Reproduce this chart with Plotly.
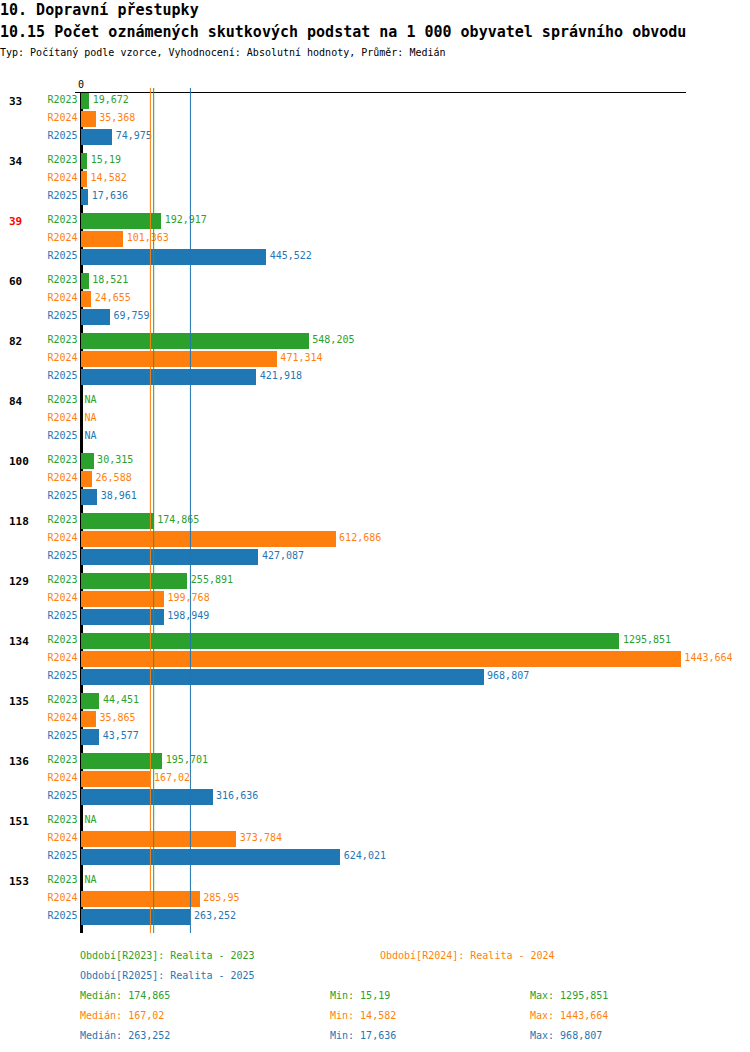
import numpy as np
import plotly.graph_objects as go

# Obvody (kategorie) a hodnoty za jednotlivá období; None = NA
categories = ["33", "34", "39", "60", "82", "84", "100", "118", "129", "134", "135", "136", "151", "153"]
highlight = "39"
r2023 = [19.672, 15.19, 192.917, 18.521, 548.205, None, 30.315, 174.865, 255.891, 1295.851, 44.451, 195.701, None, None]
r2024 = [35.368, 14.582, 101.363, 24.655, 471.314, None, 26.588, 612.686, 199.768, 1443.664, 35.865, 167.02, 373.784, 285.95]
r2025 = [74.975, 17.636, 445.522, 69.759, 421.918, None, 38.961, 427.087, 198.949, 968.807, 43.577, 316.636, 624.021, 263.252]

series = [
    ("R2023", "Realita - 2023", r2023, "#2ca02c"),
    ("R2024", "Realita - 2024", r2024, "#ff7f0e"),
    ("R2025", "Realita - 2025", r2025, "#1f77b4"),
]

FONT = "DejaVu Sans Mono"


def fmt(v):
    if v is None:
        return "NA"
    return ("%.3f" % v).rstrip("0").rstrip(".").replace(".", ",")


fig = go.Figure()
idx = np.arange(len(categories))

for j, (code, name, vals, color) in enumerate(series):
    ypos = idx + (j - 1) * 0.3
    xs = [v if v is not None else 0 for v in vals]
    fig.add_trace(go.Bar(
        x=vals, y=ypos, orientation="h",
        width=0.267, marker=dict(color=color, line=dict(width=0)),
        hoverinfo="skip", showlegend=False,
    ))
    # popisky hodnot
    fig.add_trace(go.Scatter(
        x=xs, y=ypos, mode="markers+text", text=[fmt(v) for v in vals],
        marker=dict(size=4, opacity=0),
        textposition="middle right", textfont=dict(family=FONT, size=10, color=color),
        hoverinfo="skip", showlegend=False, cliponaxis=False,
    ))
    # popisky období
    fig.add_trace(go.Scatter(
        x=[0] * len(vals), y=ypos, mode="markers+text", text=[code] * len(vals),
        marker=dict(size=4, opacity=0),
        textposition="middle left", textfont=dict(family=FONT, size=10, color=color),
        hoverinfo="skip", showlegend=False, cliponaxis=False,
    ))
    med = np.nanmedian(np.array(vals, dtype=float))
    fig.add_shape(type="line", x0=med, x1=med, yref="paper", y0=0, y1=1.006,
                  line=dict(color=color, width=1))

# popisky obvodů
for i, cat in enumerate(categories):
    fig.add_annotation(
        x=0, xref="paper", xshift=-68, y=i - 0.3, yref="y", yshift=-1,
        text="<b>%s</b>" % cat, showarrow=False, xanchor="left",
        font=dict(family=FONT, size=11, color="red" if cat == highlight else "black"),
    )

# nadpisy
titles = [
    ("<b>10. Dopravní přestupky</b>", 15, 9),
    ("<b>10.15 Počet oznámených skutkových podstat na 1 000 obyvatel správního obvodu</b>", 15, 31),
    ("Typ: Počítaný podle vzorce, Vyhodnocení: Absolutní hodnoty, Průměr: Medián", 10, 51),
]
for text, size, ypx in titles:
    fig.add_annotation(
        x=0, xref="paper", xshift=-77, y=1, yref="paper", yshift=92 - ypx,
        text=text, showarrow=False, xanchor="left", yanchor="middle",
        font=dict(family=FONT, size=size, color="black"),
    )


# legenda a statistiky
def note(text, color, xpx, ypx):
    fig.add_annotation(
        x=0, xref="paper", xshift=xpx - 77, y=0, yref="paper", yshift=932 - ypx,
        text=text, showarrow=False, xanchor="left", yanchor="middle",
        font=dict(family=FONT, size=10, color=color),
    )


legend_pos = [(80, 954), (380, 954), (80, 974)]
for (code, name, vals, color), (xp, yp) in zip(series, legend_pos):
    note("Období[%s]: %s" % (code, name), color, xp, yp)

for j, (code, name, vals, color) in enumerate(series):
    arr = np.array(vals, dtype=float)
    yp = 994 + 20 * j
    note("Medián: %s" % fmt(float(np.nanmedian(arr))), color, 80, yp)
    note("Min: %s" % fmt(float(np.nanmin(arr))), color, 330, yp)
    note("Max: %s" % fmt(float(np.nanmax(arr))), color, 530, yp)

fig.update_layout(
    width=750, height=1052,
    margin=dict(l=75, r=64, t=93, b=119),
    plot_bgcolor="white", paper_bgcolor="white",
    bargap=0,
    xaxis=dict(
        range=[-14.5, 1456], side="top", tickvals=[0], ticktext=["0"],
        ticks="", showgrid=False, showline=True, linecolor="black", linewidth=1,
        zeroline=True, zerolinecolor="black", zerolinewidth=3,
        tickfont=dict(family=FONT, size=10, color="black"),
    ),
    yaxis=dict(
        range=[13.567, -0.433], showticklabels=False, showgrid=False,
        zeroline=False, showline=False, ticks="",
    ),
)

fig.write_html("out.html", config={"displayModeBar": False},
               post_script="document.body.style.margin='0';")
